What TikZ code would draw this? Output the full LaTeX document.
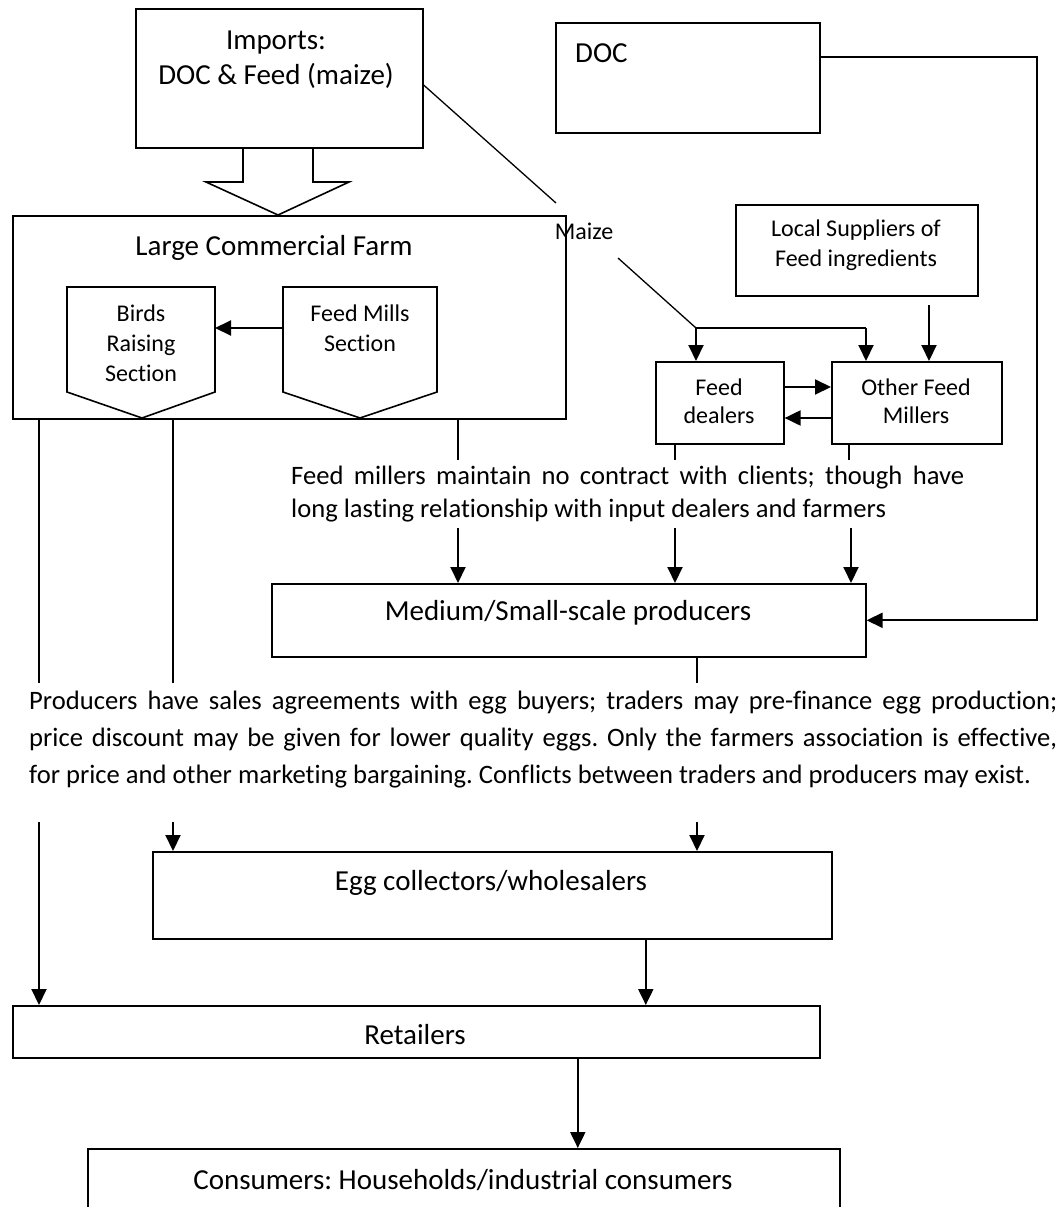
\documentclass[tikz,border=0pt]{standalone}
\usepackage{fontspec}
\setmainfont{Carlito}[RawFeature={-liga}]
\usetikzlibrary{arrows.meta,calc}
\frenchspacing
\tikzset{
  box/.style={draw, line width=1.6pt, inner sep=0pt, anchor=north west},
  big/.style={font=\fontsize{29}{35}\selectfont, inner sep=0pt},
  small/.style={font=\fontsize{24}{30}\selectfont, inner sep=0pt},
  flow/.style={line width=2pt, -{Triangle[length=16pt,width=15pt]}},
  link/.style={line width=2pt},
  thinlink/.style={line width=1.3pt},
  outline/.style={line width=1.6pt, line join=miter},
}
\begin{document}
\begin{tikzpicture}[x=1pt,y=-1pt]
\useasboundingbox (0,0) rectangle (1063,1207);
\fill[white] (0,0) rectangle (1063,1207);
\clip (0,0) rectangle (1063,1207);

% ---- boxes ----
\node[box, minimum width=287pt, minimum height=139pt] (imp) at (135,8) {};
\node[big, align=center] (impT) at (276,60) {Imports:\\DOC \& Feed (maize)};

\node[box, minimum width=264pt, minimum height=110pt] (doc) at (555,22) {};
\node[big, anchor=base west] (docT) at (575,63) {DOC};

\node[box, minimum width=553pt, minimum height=203pt] (lcf) at (12,215) {};
\node[big, anchor=base] (lcfT) at (274,255) {Large Commercial Farm};

\node[box, minimum width=242pt, minimum height=91pt] (local) at (735,204) {};
\node[small, align=center] (localT) at (856,245) {Local Suppliers of\\Feed ingredients};

\node[box, minimum width=128pt, minimum height=82pt] (dealers) at (655,361) {};
\node[small, align=center, font=\fontsize{24}{28}\selectfont] (dealersT) at (719,401) {Feed\\dealers};

\node[box, minimum width=170pt, minimum height=82pt] (millers) at (831,361) {};
\node[small, align=center, font=\fontsize{24}{28}\selectfont] (millersT) at (916,401) {Other Feed\\Millers};

\node[box, minimum width=594pt, minimum height=73pt] (med) at (271,583) {};
\node[big, anchor=base] (medT) at (568,620) {Medium/Small-scale producers};

\node[box, minimum width=679pt, minimum height=87pt] (egg) at (152,851) {};
\node[big, anchor=base] (eggT) at (491,890) {Egg collectors/wholesalers};

\node[box, minimum width=807pt, minimum height=52pt] (ret) at (12,1005) {};
\node[big, anchor=base] (retT) at (415,1044) {Retailers};

\node[box, minimum width=752pt, minimum height=100pt] (cons) at (87,1148) {};
\node[big, anchor=base] (consT) at (463,1189) {Consumers: Households/industrial consumers};

% ---- block arrow from imports into the farm ----
\draw[outline] (243,147) -- (243,182) -- (206,182) -- (278,215) -- (349,182) -- (313,182) -- (313,147);

% ---- sections inside the farm ----
\draw[outline] (67,287) -- (215,287) -- (215,392) -- (142,418) -- (67,392) -- cycle;
\node[small, align=center] (birds) at (141,343) {Birds\\Raising\\Section};
\draw[outline] (283,287) -- (437,287) -- (437,392) -- (360,418) -- (283,392) -- cycle;
\node[small, align=center] (mills) at (360,328) {Feed Mills\\Section};
\coordinate (millsW) at (283,328);
\coordinate (birdsE) at (215,328);
\draw[flow] (millsW) -- (birdsE);

% ---- maize route ----
\node[small, anchor=base] (maize) at (584,239) {Maize};
\coordinate (mzA) at (556,203);
\coordinate (mzB) at (618,258);
\coordinate (mzJ) at (696,328);
\coordinate (mzK) at (866,328);
\draw[thinlink] ($(imp.north east)+(0,77)$) -- (mzA);
\draw[thinlink] (mzB) -- (mzJ);
\draw[link] (mzJ) -- (mzK);
\draw[flow] (mzJ) -- (mzJ |- dealers.north);
\draw[flow] (mzK) -- (mzK |- millers.north);

% ---- local suppliers to millers ----
\coordinate (locOut) at (929,305);
\draw[flow] (locOut) -- (locOut |- millers.north);

% ---- dealers <-> millers ----
\draw[flow] ([yshift=-26pt]dealers.north east) -- ([yshift=-26pt]millers.north west);
\draw[flow] ([yshift=-57pt]millers.north west) -- ([yshift=-57pt]dealers.north east);

% ---- DOC supply to medium/small producers ----
\coordinate (docR) at (1037,57);
\draw[flow] ($(doc.north east)+(0,35)$) -- (docR) |- (med.east);

% ---- feed millers note ----
\node[font=\fontsize{26.6}{32.4}\selectfont, text width=673pt, align=justify, inner sep=0pt, anchor=west] (feedNote) at (291,494)
  {Feed millers maintain no contract with clients; though have\linebreak long lasting relationship with input dealers and farmers};

\coordinate (f1) at (458,460);
\coordinate (f2) at (675,460);
\coordinate (f3) at (849,460);
\draw[link] (lcf.south -| f1) -- (f1);
\draw[link] (dealers.south -| f2) -- (f2);
\draw[link] (millers.south -| f3) -- (f3);
\coordinate (g1) at (458,528);
\coordinate (g2) at (675,528);
\coordinate (g3) at (851,528);
\draw[flow] (g1) -- (g1 |- med.north);
\draw[flow] (g2) -- (g2 |- med.north);
\draw[flow] (g3) -- (g3 |- med.north);

% ---- producers note ----
\node[font=\fontsize{26.6}{37}\selectfont, text width=1028pt, align=justify, inner sep=0pt, anchor=west] (prodNote) at (29,740)
  {Producers have sales agreements with egg buyers; traders may pre-finance egg production;\linebreak
   price discount may be given for lower quality eggs. Only the farmers association is effective,\linebreak
   for price and other marketing bargaining. Conflicts between traders and producers may exist.};

\coordinate (h1) at (39,683);
\coordinate (h2) at (173,683);
\coordinate (h3) at (697,683);
\draw[link] (lcf.south -| h1) -- (h1);
\draw[link] (lcf.south -| h2) -- (h2);
\draw[link] (med.south -| h3) -- (h3);
\coordinate (k1) at (39,822);
\coordinate (k2) at (173,822);
\coordinate (k3) at (697,822);
\draw[flow] (k1) -- (k1 |- ret.north);
\draw[flow] (k2) -- (k2 |- egg.north);
\draw[flow] (k3) -- (k3 |- egg.north);

% ---- lower chain ----
\draw[flow] ([xshift=153.5pt]egg.south) -- ([xshift=153.5pt]egg.south |- ret.north);
\draw[flow] ([xshift=161.5pt]ret.south) -- ([xshift=161.5pt]ret.south |- cons.north);
\end{tikzpicture}
\end{document}
